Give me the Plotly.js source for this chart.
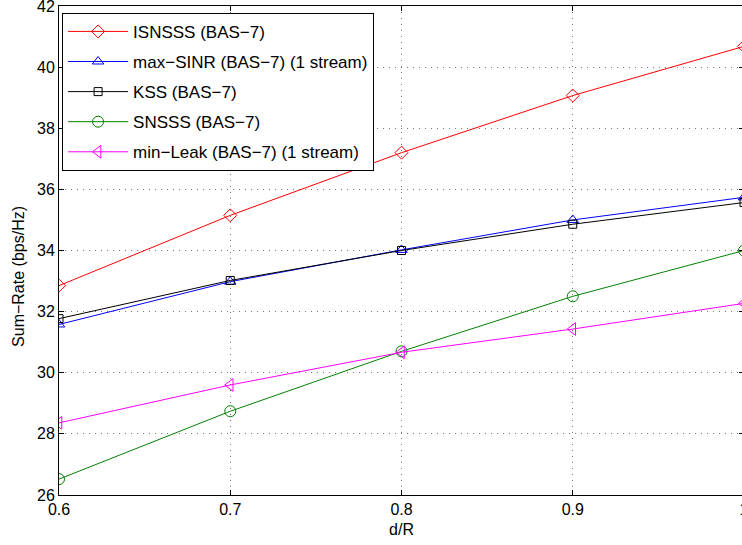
<!DOCTYPE html>
<html>
<head>
<meta charset="utf-8">
<script src="https://cdn.plot.ly/plotly-3.0.1.min.js"></script>
<style>
html,body{margin:0;padding:0;overflow:hidden;background:#fff;}
#chart{width:744px;height:545px;}
</style>
</head>
<body>
<div id="chart"></div>
<script>
const dR = [0.6, 0.7, 0.8, 0.9, 1.0];
const isnsss = [32.85, 35.15, 37.2, 39.07, 40.68];
const maxSinr = [31.58, 32.98, 34.02, 35.0, 35.74];
const kss = [31.77, 33.02, 34.0, 34.86, 35.57];
const snsss = [26.52, 28.74, 30.7, 32.5, 34.0];
const minLeak = [28.36, 29.6, 30.67, 31.43, 32.27];
const names = ["ISNSSS (BAS\u22127)", "max\u2212SINR (BAS\u22127) (1 stream)", "KSS (BAS\u22127)", "SNSSS (BAS\u22127)", "min\u2212Leak (BAS\u22127) (1 stream)"];
const xTicks = [0.6, 0.7, 0.8, 0.9, 1.0];
const xTickText = ["0.6", "0.7", "0.8", "0.9", "1"];
const yTicks = [26, 28, 30, 32, 34, 36, 38, 40, 42];
const yTitle = "Sum\u2212Rate (bps/Hz)";
const xTitle = "d/R";

const series = [isnsss, maxSinr, kss, snsss, minLeak];
const colors = ["#ff0000", "#0000ff", "#000000", "#008000", "#ff00ff"];
const symbols = ["diamond-open", "triangle-up-open", "square-open", "circle-open", "triangle-left-open"];
const sizes = [10, 10, 8, 11, 11];

const traces = series.map((ys, i) => ({
  x: dR, y: ys, name: names[i], type: "scatter", mode: "lines+markers",
  legendgroup: "g" + i, cliponaxis: true,
  line: {color: colors[i], width: 1},
  marker: {symbol: symbols[i], size: sizes[i], color: colors[i], line: {color: colors[i], width: 1}}
}));

const font = {family: "Liberation Sans, Arial, sans-serif", size: 16, color: "#000"};
const legFont = {family: "Liberation Sans, Arial, sans-serif", size: 17, color: "#000"};
const layout = {
  width: 744, height: 545,
  margin: {l: 59, r: 0, t: 6, b: 50},
  paper_bgcolor: "#fff", plot_bgcolor: "#fff",
  font: font,
  showlegend: true,
  legend: {
    x: 0.0045, y: 0.986, xanchor: "left", yanchor: "top",
    bgcolor: "#fff", bordercolor: "#000", borderwidth: 1,
    font: legFont, tracegroupgap: 5, itemwidth: 60
  },
  xaxis: {
    range: [0.6, 1.0], tickvals: xTicks, ticktext: xTickText,
    ticks: "inside", ticklen: 5, tickcolor: "#000", ticklabeloverflow: "allow",
    showline: true, linecolor: "#000", linewidth: 1, mirror: "ticks",
    showgrid: true, gridcolor: "#777", gridwidth: 1, griddash: "1px,5px",
    zeroline: false,
    title: {text: xTitle, font: font, standoff: 6}
  },
  yaxis: {
    range: [26, 42], tickvals: yTicks,
    ticks: "inside", ticklen: 5, tickcolor: "#000", ticklabeloverflow: "allow",
    showline: true, linecolor: "#000", linewidth: 1, mirror: "ticks",
    showgrid: true, gridcolor: "#777", gridwidth: 1, griddash: "1px,5px",
    zeroline: false
  },
  annotations: [{
    text: yTitle, textangle: -90, showarrow: false,
    xref: "paper", yref: "paper", x: -0.0584, y: 0.448,
    xanchor: "center", yanchor: "middle", font: font
  }]
};
Plotly.newPlot("chart", traces, layout, {displayModeBar: false, staticPlot: true});
</script>
</body>
</html>
